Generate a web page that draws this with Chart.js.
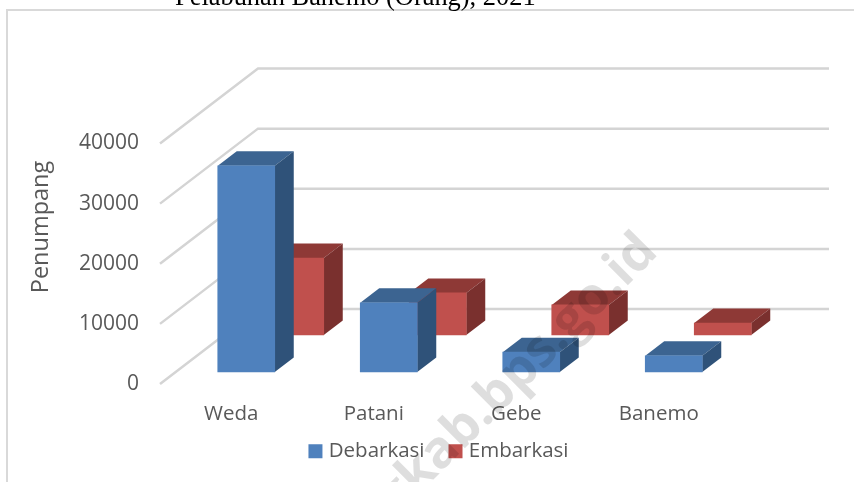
<!DOCTYPE html>
<html>
<head>
<meta charset="utf-8">
<style>
  html, body { margin: 0; padding: 0; background: #fff; overflow: hidden; }
  #wrap { position: relative; width: 854px; height: 482px; overflow: hidden; }
  #judul { position: absolute; left: 175px; top: -19px; font: 26.4px "Liberation Serif", serif; color: #000; white-space: nowrap; }
</style>
<script src="https://cdn.jsdelivr.net/npm/chart.js@4"></script>
</head>
<body>
<div id="wrap">
  <div id="judul">Pelabuhan Banemo (Orang), 2021</div>
  <canvas id="grafik" width="854" height="482"></canvas>
</div>
<script>
const categories = ["Weda", "Patani", "Gebe", "Banemo"];
const debarkasi = [34300, 11500, 3300, 2700];
const embarkasi = [12800, 7000, 5000, 2000];
const yTicks = [0, 10000, 20000, 30000, 40000];
const yTitle = "Penumpang";
const watermark = "haltengkab.bps.go.id";

const fontName = '"Open Sans", sans-serif';
const abu = "#595959";

// warna sisi 3D tiap seri
const warna = [
  { front: "#4F81BD", top: "#3C6491", side: "#2F5279" },
  { front: "#C0504D", top: "#8E3936", side: "#7A302E" }
];
// geser tiap seri ke dalam, plus kedalaman balok
const geser = [{ x: 15, y: -12 }, { x: 64, y: -49 }];
const dalam = { x: 19, y: -14.5 };
const lantai = { x: 98, y: -75, kanan: 829 };

function poly(ctx, pts, fill) {
  ctx.beginPath();
  pts.forEach((p, i) => i ? ctx.lineTo(p[0], p[1]) : ctx.moveTo(p[0], p[1]));
  ctx.closePath();
  ctx.fillStyle = fill;
  ctx.fill();
}

const bar3d = {
  id: "bar3d",
  beforeInit(chart) {
    // tinggi legend dikunci supaya area grafik tetap
    const fit = chart.legend.fit;
    chart.legend.fit = function () { fit.call(this); this.height = 34; };
  },
  afterLayout(chart) {
    const lg = chart.legend;
    lg.left = 75.5;
    lg.right = lg.left + lg.width;
    lg.top = 413;
  },
  beforeDraw(chart) {
    const { ctx, scales } = chart;
    ctx.save();
    // bingkai
    ctx.strokeStyle = "#d9d9d9";
    ctx.lineWidth = 2;
    ctx.beginPath();
    ctx.moveTo(7, 482);
    ctx.lineTo(7, 10);
    ctx.lineTo(854, 10);
    ctx.stroke();
    // garis bantu miring + belakang
    ctx.strokeStyle = "#d4d4d4";
    ctx.lineWidth = 2.5;
    const x0 = scales.y.right;
    yTicks.forEach(v => {
      const py = scales.y.getPixelForValue(v);
      ctx.beginPath();
      ctx.moveTo(x0, py);
      ctx.lineTo(x0 + lantai.x, py + lantai.y);
      ctx.lineTo(lantai.kanan, py + lantai.y);
      ctx.stroke();
    });
    ctx.restore();
  },
  beforeDatasetDraw(chart, args) {
    const { ctx } = chart;
    const g = geser[args.index], c = warna[args.index];
    ctx.save();
    ctx.translate(g.x, g.y);
    args.meta.data.forEach(el => {
      const l = el.x - el.width / 2, r = el.x + el.width / 2;
      poly(ctx, [[l, el.y], [l + dalam.x, el.y + dalam.y], [r + dalam.x, el.y + dalam.y], [r, el.y]], c.top);
      poly(ctx, [[r, el.y], [r + dalam.x, el.y + dalam.y], [r + dalam.x, el.base + dalam.y], [r, el.base]], c.side);
    });
  },
  afterDatasetDraw(chart) {
    chart.ctx.restore();
  },
  afterDraw(chart) {
    const { ctx } = chart;
    ctx.save();
    // judul sumbu y
    ctx.translate(41, 227);
    ctx.rotate(-Math.PI / 2);
    ctx.font = "23.5px " + fontName;
    ctx.fillStyle = abu;
    ctx.textAlign = "center";
    ctx.textBaseline = "middle";
    ctx.fillText(yTitle, 0, 0);
    ctx.restore();
    // watermark
    ctx.save();
    ctx.translate(649, 243);
    ctx.rotate(-45 * Math.PI / 180);
    ctx.font = "bold 52px " + fontName;
    ctx.fillStyle = "rgba(0,0,0,0.13)";
    ctx.textAlign = "right";
    ctx.textBaseline = "middle";
    ctx.fillText(watermark, 0, 0);
    ctx.restore();
  }
};

new Chart(document.getElementById("grafik"), {
  type: "bar",
  data: {
    labels: categories,
    datasets: [
      { label: "Debarkasi", data: debarkasi, backgroundColor: warna[0].front, clip: false },
      { label: "Embarkasi", data: embarkasi, backgroundColor: warna[1].front, clip: false }
    ]
  },
  options: {
    responsive: false,
    animation: false,
    grouped: false,
    barThickness: 57,
    layout: { padding: { left: 0, right: 124, top: 143.5, bottom: 16 } },
    scales: {
      x: {
        grid: { display: false, drawTicks: false },
        border: { display: false },
        ticks: { color: abu, font: { family: fontName, size: 20.5 }, padding: 18, maxRotation: 0 },
        afterFit(s) { s.height = 48; }
      },
      y: {
        min: 0,
        max: 40000,
        afterBuildTicks(s) { s.ticks = yTicks.map(v => ({ value: v })); },
        grid: { display: false, drawTicks: false },
        border: { display: false },
        ticks: { color: abu, font: { family: fontName, size: 21 }, padding: 21, callback: v => String(v) },
        afterFit(s) { s.width = 160; }
      }
    },
    plugins: {
      legend: {
        position: "bottom",
        labels: {
          color: abu,
          font: { family: fontName, size: 20.5 },
          boxWidth: 6,
          boxHeight: 6,
          padding: 28,
          generateLabels(chart) {
            return Chart.defaults.plugins.legend.labels.generateLabels(chart).map(it => {
              it.lineWidth = 8;
              it.strokeStyle = it.fillStyle;
              return it;
            });
          }
        }
      },
      tooltip: { enabled: false }
    }
  },
  plugins: [bar3d]
});
</script>
</body>
</html>
